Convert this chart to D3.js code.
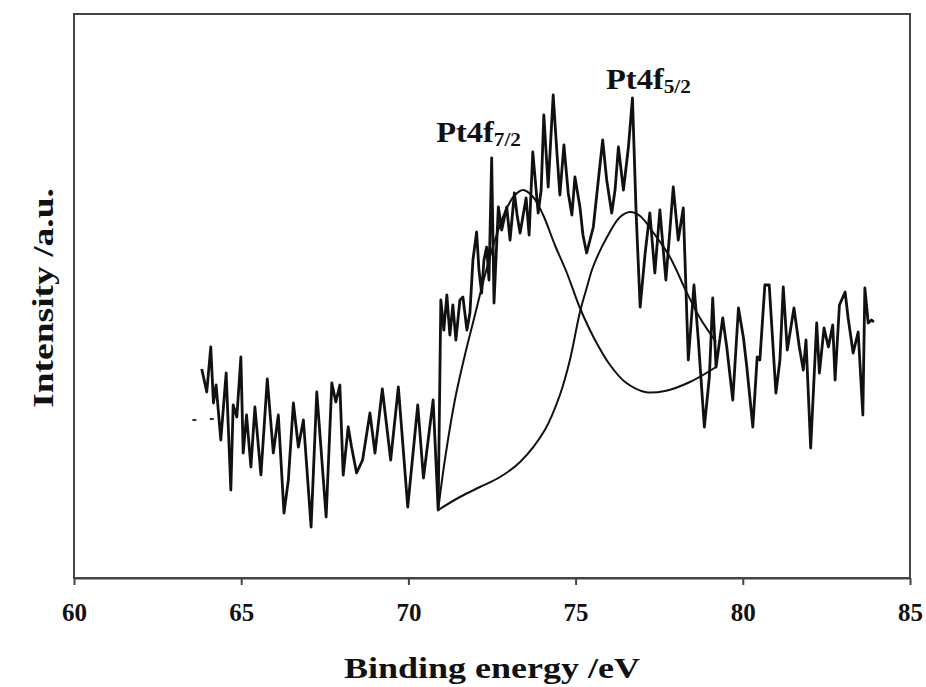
<!DOCTYPE html>
<html>
<head>
<meta charset="utf-8">
<script src="https://cdn.jsdelivr.net/npm/d3@7"></script>
<style>
  html, body { margin: 0; padding: 0; background: #fff; }
  svg { display: block; }
</style>
</head>
<body>
<svg id="chart" width="926" height="687"></svg>
<script>
// ---- Data ----
// Binding energy (eV) of the measured spectrum
const energy = [
  63.82, 63.97, 64.09, 64.17, 64.25, 64.39, 64.55, 64.69, 64.76, 64.87,
  64.99, 65.06, 65.16, 65.29, 65.41, 65.59, 65.78, 65.96, 66.11, 66.28,
  66.41, 66.56, 66.71, 66.86, 67.09, 67.26, 67.54, 67.71, 67.83, 67.95,
  68.05, 68.20, 68.30, 68.45, 68.63, 68.85, 69.00, 69.22, 69.47, 69.70,
  69.98, 70.28, 70.45, 70.74, 70.89,
  70.97, 71.06, 71.15, 71.24, 71.33, 71.42, 71.54, 71.63, 71.75, 71.84,
  71.93, 72.04, 72.11, 72.19, 72.26, 72.34, 72.41, 72.49, 72.56, 72.69,
  72.79, 72.94, 73.04, 73.17, 73.25, 73.34, 73.52, 73.61, 73.72, 73.88,
  73.97, 74.05, 74.18, 74.33, 74.43, 74.53, 74.65, 74.78, 74.89, 74.98,
  75.13, 75.22, 75.33, 75.43, 75.53, 75.68, 75.81, 75.93, 76.08, 76.18,
  76.28, 76.43, 76.58, 76.70, 76.81, 76.93, 77.08, 77.22, 77.37, 77.52,
  77.70, 77.82, 77.92, 78.07, 78.22, 78.37, 78.54, 78.67, 78.85, 79.00,
  79.10, 79.20, 79.40, 79.52, 79.70, 79.87, 80.02, 80.12, 80.30, 80.43,
  80.51, 80.66, 80.79, 80.99, 81.11, 81.21, 81.33, 81.53, 81.69, 81.81,
  81.89, 82.03, 82.21, 82.29, 82.43, 82.56, 82.69, 82.76, 82.89, 83.06,
  83.15, 83.30, 83.45, 83.59, 83.65, 83.75, 83.85, 83.92
];
// Intensity (a.u.) of the measured spectrum
const intensity = [
  209, 186, 231, 175, 193, 138, 205, 88, 173, 161,
  221, 125, 163, 111, 171, 103, 199, 125, 163, 65,
  98, 175, 131, 158, 51, 186, 61, 195, 176, 193,
  103, 151, 131, 105, 118, 165, 125, 189, 118, 191,
  71, 173, 100, 178, 68,
  278, 248, 283, 243, 273, 238, 278, 281, 248, 265,
  318, 346, 308, 285, 318, 331, 298, 420, 275, 371,
  348, 371, 338, 385, 363, 345, 380, 343, 426, 365,
  388, 463, 391, 483, 431, 383, 433, 385, 363, 401,
  371, 343, 325, 338, 351, 398, 438, 398, 365, 388,
  431, 388, 431, 480, 365, 271, 325, 365, 305, 368,
  298, 348, 391, 338, 370, 218, 293, 238, 151, 201,
  280, 211, 260, 231, 178, 270, 240, 211, 151, 221,
  218, 293, 293, 185, 218, 291, 228, 270, 231, 208,
  238, 130, 255, 205, 250, 231, 253, 198, 273, 286,
  260, 225, 246, 163, 290, 255, 258, 256
];
// Fitted component Pt4f7/2 (with background)
const fit72Energy = [70.89, 71.09, 71.39, 71.69, 71.99, 72.29, 72.59, 72.89, 73.16, 73.43,
  73.73, 74.03, 74.38, 74.74, 75.13, 75.58, 76.03, 76.48, 77.08, 77.67, 78.42, 79.20];
const fit72Intensity = [68, 118, 178, 223, 263, 303, 338, 366, 382, 388,
  381, 363, 333, 305, 270, 238, 213, 196, 186, 187, 196, 211];
// Fitted component Pt4f5/2 (with background)
const fit52Energy = [70.89, 71.54, 72.14, 72.74, 73.34, 74.08, 74.53, 74.83, 75.13, 75.34,
  75.52, 75.94, 76.33, 76.63, 76.93, 77.31, 77.82, 78.33, 78.72, 79.20];
const fit52Intensity = [68, 81, 91, 101, 116, 148, 183, 218, 266, 291,
  311, 341, 361, 366, 362, 346, 321, 285, 260, 236];
// Small stray specks left of the spectrum start
const speckEnergy = [63.6, 64.12];
const speckIntensity = [158, 159];
// Axis
const xTicks = [60, 65, 70, 75, 80, 85];
const xDomain = [60, 85];
const yDomain = [0, 564];
const xTitle = "Binding energy /eV";
const yTitle = "Intensity /a.u.";
const peakLabels = [
  { main: "Pt4f", sub: "7/2", e: 70.83, i: 436 },
  { main: "Pt4f", sub: "5/2", e: 75.91, i: 489 }
];

// ---- Font choice: first installed Times-like serif ----
function pickFont() {
  const cands = ["Liberation Serif", "Tinos", "Times New Roman", "Times", "Nimbus Roman", "FreeSerif", "Noto Serif", "DejaVu Serif"];
  const ctx = document.createElement("canvas").getContext("2d");
  const sample = "Binding energy /eV 0123456789 Pt4f";
  const w = f => { ctx.font = `bold 30px ${f}`; return ctx.measureText(sample).width; };
  const mono = w("monospace"), sans = w("sans-serif");
  for (const c of cands) {
    const a = w(`"${c}", monospace`), b = w(`"${c}", sans-serif`);
    if (a !== mono || b !== sans) return `"${c}", serif`;
  }
  return "serif";
}
const FONT = pickFont();

// ---- Drawing ----
const svg = d3.select("#chart");
const L = 74, R = 910, T = 14, B = 578;
const x = d3.scaleLinear().domain(xDomain).range([L, R]);
const y = d3.scaleLinear().domain(yDomain).range([B, T]);

// frame
svg.append("rect")
  .attr("x", L).attr("y", T).attr("width", R - L).attr("height", B - T)
  .attr("fill", "none").attr("stroke", "#444").attr("stroke-width", 2);

// bottom axis
const ax = svg.append("g").attr("transform", `translate(0,${B})`)
  .call(d3.axisBottom(x).tickValues(xTicks).tickSize(7).tickSizeOuter(0).tickPadding(18).tickFormat(d3.format("d")));
ax.select(".domain").attr("stroke", "#444").attr("stroke-width", 2);
ax.selectAll(".tick line").attr("stroke", "#444").attr("stroke-width", 2);
ax.selectAll(".tick text")
  .style("font-family", FONT)
  .style("font-weight", "bold")
  .style("font-size", "25px")
  .attr("fill", "#111");

// spectrum
const pts = energy.map((e, k) => [e, intensity[k]]);
const line = d3.line().x(d => x(d[0])).y(d => y(d[1])).curve(d3.curveLinear);
svg.append("path").datum(pts)
  .attr("d", line).attr("fill", "none").attr("stroke", "#111")
  .attr("stroke-width", 2.8).attr("stroke-linejoin", "round");

// fitted components
const smooth = d3.line().x(d => x(d[0])).y(d => y(d[1])).curve(d3.curveCatmullRom.alpha(0.5));
[[fit72Energy, fit72Intensity], [fit52Energy, fit52Intensity]].forEach(([es, is]) => {
  svg.append("path").datum(es.map((e, k) => [e, is[k]]))
    .attr("d", smooth).attr("fill", "none").attr("stroke", "#111").attr("stroke-width", 2);
});

// stray specks
svg.selectAll("line.speck").data(speckEnergy).join("line").attr("class", "speck")
  .attr("x1", d => x(d) - 2).attr("x2", d => x(d) + 2)
  .attr("y1", (d, k) => y(speckIntensity[k])).attr("y2", (d, k) => y(speckIntensity[k]))
  .attr("stroke", "#333").attr("stroke-width", 2);

const txt = sel => sel.style("font-family", FONT).style("font-weight", "bold").attr("fill", "#111");

// peak labels
peakLabels.forEach(p => {
  const t = svg.append("text")
    .attr("transform", `translate(${x(p.e)},${y(p.i)}) scale(1.12,1)`)
    .style("font-size", "29px").call(txt);
  t.append("tspan").text(p.main);
  t.append("tspan").attr("dy", 4).style("font-size", "19px").text(p.sub);
});

// axis titles
svg.append("text")
  .attr("transform", `translate(${(L + R) / 2},678) scale(1.2,1)`)
  .attr("text-anchor", "middle").style("font-size", "30px").call(txt).text(xTitle);
svg.append("text")
  .attr("transform", `translate(53,${(T + B) / 2 + 2}) rotate(-90) scale(1.25,1)`)
  .attr("text-anchor", "middle").style("font-size", "30px").call(txt).text(yTitle);
</script>
</body>
</html>
